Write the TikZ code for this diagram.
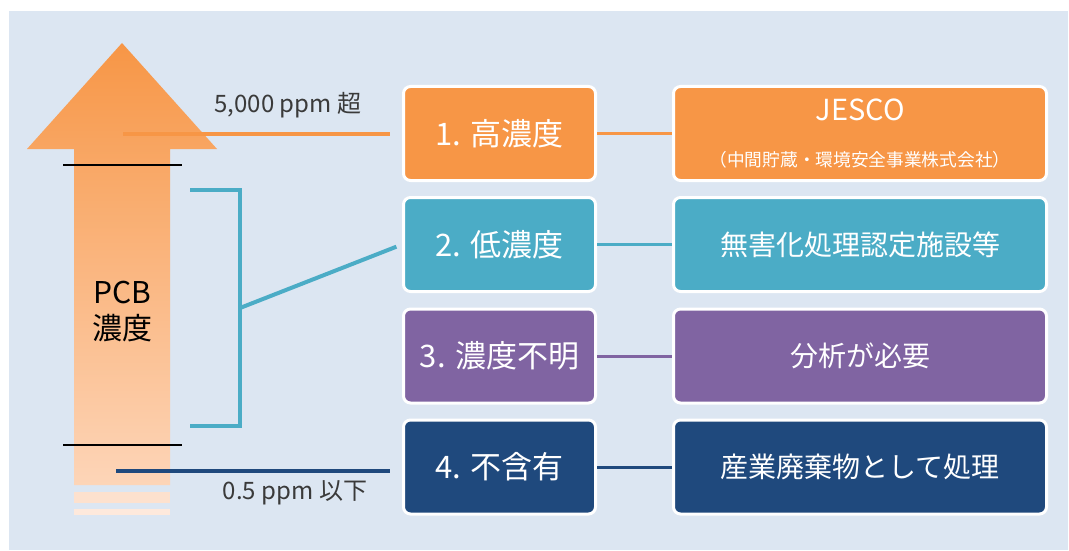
\documentclass[tikz,border=0pt]{standalone}
\usepackage{fontspec}
\setmainfont{Noto Sans CJK JP}
\definecolor{bg}{HTML}{DCE6F2}
\definecolor{corange}{HTML}{F79646}
\definecolor{cteal}{HTML}{4BACC6}
\definecolor{cpurple}{HTML}{8064A2}
\definecolor{cnavy}{HTML}{1F497D}
\definecolor{armtop}{HTML}{F79646}
\definecolor{armbot}{HTML}{FDD5B8}
\definecolor{stripeA}{HTML}{FDE1CE}
\definecolor{stripeB}{HTML}{FEE9DC}
\definecolor{lbl}{HTML}{3A3A3A}
\begin{document}
\begin{tikzpicture}[x=1pt,y=-1pt,
  box/.style={draw=white, line width=3pt, rounded corners=7pt, inner sep=0pt, text=white, minimum height=94pt},
  lbox/.style={box, minimum width=192pt, font=\fontsize{31}{36}\selectfont},
  rbox/.style={box, minimum width=373pt, font=\fontsize{28}{32}\selectfont},
  link/.style={line width=3pt},
  lead/.style={line width=4pt},
  tickline/.style={line width=1.3pt, black},
  ppm/.style={text=lbl, font=\fontsize{24}{28}\selectfont, inner sep=0pt}
]
\useasboundingbox (0,0) rectangle (1069,551);
\fill[white] (0,0) rectangle (1069,551);
\fill[bg] (9,11) rectangle (1068,550);

% arrow
\shade[top color=armtop, bottom color=armbot] (122,43) -- (217,149) -- (170,149) -- (170,485) -- (74,485) -- (74,149) -- (27,149) -- cycle;
\fill[stripeA] (74,492) rectangle (170,503);
\fill[stripeB] (74,509) rectangle (170,515);
\draw[tickline] (63,165) -- (182,165);
\draw[tickline] (63,445) -- (182,445);
\node[align=center, font=\fontsize{30}{36}\selectfont, inner sep=0pt] (pcb) at (122,312) {PCB\\濃度};

% boxes
\node[lbox, fill=corange] (b1) at (499.5,133.5) {1. 高濃度};
\node[lbox, fill=cteal] (b2) at (499.5,244.5) {2. 低濃度};
\node[lbox, fill=cpurple] (b3) at (499.5,356) {3. 濃度不明};
\node[lbox, fill=cnavy] (b4) at (499.5,467) {4. 不含有};

\node[rbox, fill=corange] (r1) at (860,133.5) {};
\node[text=white, inner sep=0pt, font=\fontsize{29}{32}\selectfont] (r1a) at (860,110) {JESCO};
\node[text=white, inner sep=0pt, font=\fontsize{17.7}{20}\selectfont] (r1b) at (860,160) {（中間貯蔵・環境安全事業株式会社）};
\node[rbox, fill=cteal] (r2) at (860,244.5) {無害化処理認定施設等};
\node[rbox, fill=cpurple] (r3) at (860,356) {分析が必要};
\node[rbox, fill=cnavy] (r4) at (860,467) {産業廃棄物として処理};

\draw[link, corange] (b1.east) -- (r1.west);
\draw[link, cteal] (b2.east) -- (r2.west);
\draw[link, cpurple] (b3.east) -- (r3.west);
\draw[link, cnavy] (b4.east) -- (r4.west);

% leads
\coordinate (o1) at (123,134);
\draw[lead, corange] (o1) -- ([xshift=-12pt]o1 -| b1.west);
\coordinate (t1) at (190,190);
\coordinate (tj) at (240,308);
\coordinate (t2) at (190,426);
\draw[lead, cteal] (t1) -| (tj) |- (t2);
\draw[lead, cteal, shorten >=6pt] (tj) -- (b2.west);
\coordinate (n1) at (116,471);
\draw[lead, cnavy] (n1) -- ([xshift=-12pt]n1 -| b4.west);

\node[ppm] (l1) at (288,105) {5,000 ppm 超};
\node[ppm] (l4) at (295,493) {0.5 ppm 以下};
\end{tikzpicture}
\end{document}
